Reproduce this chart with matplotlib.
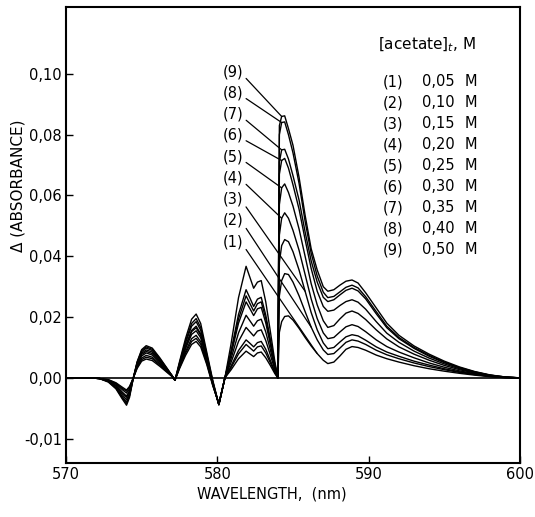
import numpy as np
import matplotlib
matplotlib.use("Agg")
import matplotlib.pyplot as plt

# wavelength grid (nm) and delta absorbance for the nine acetate concentrations
wavelength = [570.0, 571.5, 572.2, 572.8, 573.3, 573.7, 574.0, 574.2, 574.45,
              574.7, 575.0, 575.3, 575.7, 576.2, 576.7, 577.0, 577.2,
              577.5, 577.9, 578.3, 578.6, 578.9, 579.3, 579.7, 580.1, 580.5,
              580.9, 581.4, 581.9, 582.15, 582.4, 582.65, 582.9, 583.2, 583.5, 583.8, 584.0,
              584.1, 584.25, 584.45, 584.7, 585.0, 585.4, 585.8, 586.2, 586.6, 587.0,
              587.3, 587.7, 588.1, 588.5, 588.9, 589.3, 589.8, 590.5, 591.2, 592.0,
              593.0, 594.0, 595.0, 596.0, 597.0, 598.0, 599.0, 600.0]

curve_1 = [0, 0, -0.0001, -0.0003, -0.0008, -0.0015, -0.0020, -0.0014, 0,
           0.0031, 0.0055, 0.0062, 0.0057, 0.0038, 0.0017, 0.0005, -0.0004,
           0.0030, 0.0074, 0.0110, 0.0120, 0.0102, 0.0044, -0.0013, -0.0042, 0,
           0.0026, 0.0063, 0.0088, 0.0079, 0.0070, 0.0082, 0.0085, 0.0066, 0.0041, 0.0014, 0,
           0.0150, 0.0185, 0.0202, 0.0204, 0.0190, 0.0163, 0.0133, 0.0105, 0.0080, 0.0058,
           0.0047, 0.0052, 0.0072, 0.0094, 0.0103, 0.0100, 0.0091, 0.0075, 0.0063, 0.0052,
           0.0040, 0.0030, 0.0022, 0.0015, 0.0009, 0.0004, 0.0001, 0]
curve_2 = [0, 0, -0.0001, -0.0003, -0.0009, -0.0017, -0.0022, -0.0015, 0,
           0.0034, 0.0060, 0.0068, 0.0063, 0.0042, 0.0019, 0.0005, -0.0004,
           0.0033, 0.0081, 0.0120, 0.0130, 0.0111, 0.0049, -0.0012, -0.0043, 0,
           0.0033, 0.0079, 0.0110, 0.0099, 0.0088, 0.0102, 0.0105, 0.0082, 0.0050, 0.0018, 0,
           0.0270, 0.0320, 0.0343, 0.0340, 0.0315, 0.0270, 0.0218, 0.0167, 0.0125, 0.0092,
           0.0077, 0.0080, 0.0098, 0.0117, 0.0125, 0.0121, 0.0110, 0.0091, 0.0076, 0.0063,
           0.0049, 0.0037, 0.0027, 0.0018, 0.0011, 0.0005, 0.0001, 0]
curve_3 = [0, 0, -0.0001, -0.0004, -0.0010, -0.0019, -0.0025, -0.0018, 0,
           0.0037, 0.0065, 0.0074, 0.0068, 0.0046, 0.0021, 0.0006, -0.0004,
           0.0035, 0.0087, 0.0129, 0.0140, 0.0119, 0.0053, -0.0011, -0.0043, 0,
           0.0038, 0.0090, 0.0125, 0.0114, 0.0102, 0.0116, 0.0120, 0.0094, 0.0058, 0.0020, 0,
           0.0380, 0.0435, 0.0455, 0.0448, 0.0415, 0.0355, 0.0285, 0.0215, 0.0158, 0.0115,
           0.0096, 0.0100, 0.0118, 0.0135, 0.0142, 0.0138, 0.0124, 0.0102, 0.0085, 0.0071,
           0.0055, 0.0042, 0.0030, 0.0020, 0.0012, 0.0005, 0.0001, 0]
curve_4 = [0, 0, -0.0001, -0.0005, -0.0012, -0.0023, -0.0030, -0.0021, 0,
           0.0041, 0.0072, 0.0082, 0.0075, 0.0051, 0.0023, 0.0007, -0.0004,
           0.0039, 0.0096, 0.0143, 0.0155, 0.0132, 0.0060, -0.0010, -0.0044, 0,
           0.0050, 0.0120, 0.0166, 0.0152, 0.0138, 0.0154, 0.0158, 0.0123, 0.0076, 0.0027, 0,
           0.0470, 0.0525, 0.0543, 0.0525, 0.0485, 0.0420, 0.0340, 0.0260, 0.0195, 0.0148,
           0.0129, 0.0133, 0.0151, 0.0168, 0.0175, 0.0169, 0.0152, 0.0125, 0.0103, 0.0085,
           0.0066, 0.0049, 0.0035, 0.0023, 0.0014, 0.0006, 0.0002, 0]
curve_5 = [0, 0, -0.0001, -0.0005, -0.0013, -0.0024, -0.0032, -0.0022, 0,
           0.0044, 0.0077, 0.0087, 0.0080, 0.0054, 0.0024, 0.0007, -0.0004,
           0.0041, 0.0102, 0.0152, 0.0165, 0.0140, 0.0064, -0.0009, -0.0044, 0,
           0.0062, 0.0148, 0.0206, 0.0188, 0.0170, 0.0188, 0.0193, 0.0151, 0.0093, 0.0033, 0,
           0.0570, 0.0625, 0.0638, 0.0610, 0.0565, 0.0490, 0.0400, 0.0310, 0.0240, 0.0188,
           0.0166, 0.0172, 0.0194, 0.0213, 0.0220, 0.0212, 0.0192, 0.0158, 0.0128, 0.0102,
           0.0078, 0.0058, 0.0041, 0.0027, 0.0016, 0.0007, 0.0002, 0]
curve_6 = [0, 0, -0.0001, -0.0005, -0.0014, -0.0027, -0.0036, -0.0025, 0,
           0.0046, 0.0081, 0.0092, 0.0085, 0.0057, 0.0026, 0.0007, -0.0004,
           0.0043, 0.0105, 0.0156, 0.0170, 0.0145, 0.0067, -0.0008, -0.0044, 0,
           0.0075, 0.0180, 0.0250, 0.0228, 0.0205, 0.0227, 0.0232, 0.0181, 0.0111, 0.0039, 0,
           0.0670, 0.0715, 0.0722, 0.0690, 0.0635, 0.0555, 0.0455, 0.0360, 0.0285, 0.0235,
           0.0219, 0.0223, 0.0238, 0.0251, 0.0257, 0.0249, 0.0226, 0.0185, 0.0147, 0.0117,
           0.0088, 0.0065, 0.0046, 0.0030, 0.0018, 0.0008, 0.0002, 0]
curve_7 = [0, 0, -0.0001, -0.0006, -0.0016, -0.0030, -0.0040, -0.0028, 0,
           0.0049, 0.0086, 0.0098, 0.0090, 0.0061, 0.0027, 0.0008, -0.0004,
           0.0046, 0.0115, 0.0170, 0.0185, 0.0157, 0.0073, -0.0007, -0.0044, 0,
           0.0081, 0.0194, 0.0270, 0.0245, 0.0220, 0.0244, 0.0250, 0.0195, 0.0120, 0.0043, 0,
           0.0710, 0.0750, 0.0752, 0.0720, 0.0665, 0.0585, 0.0480, 0.0385, 0.0315, 0.0265,
           0.0251, 0.0257, 0.0273, 0.0288, 0.0295, 0.0286, 0.0260, 0.0211, 0.0165, 0.0129,
           0.0097, 0.0071, 0.0050, 0.0033, 0.0019, 0.0009, 0.0003, 0]
curve_8 = [0, 0, -0.0001, -0.0006, -0.0017, -0.0032, -0.0042, -0.0029, 0,
           0.0051, 0.0090, 0.0102, 0.0094, 0.0063, 0.0029, 0.0008, -0.0004,
           0.0049, 0.0121, 0.0179, 0.0195, 0.0166, 0.0078, -0.0006, -0.0044, 0,
           0.0087, 0.0209, 0.0290, 0.0263, 0.0235, 0.0259, 0.0265, 0.0207, 0.0127, 0.0045, 0,
           0.0800, 0.0840, 0.0842, 0.0800, 0.0740, 0.0640, 0.0515, 0.0410, 0.0335, 0.0282,
           0.0264, 0.0268, 0.0283, 0.0298, 0.0305, 0.0296, 0.0267, 0.0218, 0.0170, 0.0133,
           0.0100, 0.0074, 0.0052, 0.0034, 0.0020, 0.0009, 0.0003, 0]
curve_9 = [0, 0, -0.0001, -0.0007, -0.0018, -0.0034, -0.0045, -0.0032, 0,
           0.0053, 0.0093, 0.0106, 0.0098, 0.0066, 0.0030, 0.0008, -0.0004,
           0.0053, 0.0130, 0.0193, 0.0210, 0.0179, 0.0085, -0.0004, -0.0044, 0,
           0.0110, 0.0264, 0.0367, 0.0331, 0.0295, 0.0315, 0.0320, 0.0250, 0.0154, 0.0054, 0,
           0.0830, 0.0860, 0.0862, 0.0820, 0.0765, 0.0660, 0.0535, 0.0425, 0.0355, 0.0300,
           0.0285, 0.0290, 0.0305, 0.0318, 0.0322, 0.0312, 0.0280, 0.0230, 0.0180, 0.0140,
           0.0105, 0.0078, 0.0055, 0.0036, 0.0021, 0.0010, 0.0003, 0]

curves = [curve_1, curve_2, curve_3, curve_4, curve_5, curve_6, curve_7, curve_8, curve_9]
acetate = [0.05, 0.10, 0.15, 0.20, 0.25, 0.30, 0.35, 0.40, 0.50]
# wavelength where each curve label's leader line ends
label_at = [586.6, 586.2, 585.8, 584.25, 584.25, 584.25, 584.25, 584.25, 584.25]

x_ticks = [570, 580, 590, 600]
y_ticks = [-0.01, 0.0, 0.02, 0.04, 0.06, 0.08, 0.10]


def comma(v):
    return f"{v:.2f}".replace(".", ",")


# the negative part of the original axis is drawn at twice the scale
def fwd(y):
    y = np.asarray(y, dtype=float)
    return np.where(y < 0, 2 * y, y)


def inv(y):
    y = np.asarray(y, dtype=float)
    return np.where(y < 0, y / 2, y)


plt.rcParams["font.family"] = "DejaVu Sans"
fig = plt.figure(figsize=(5.35, 5.17), dpi=100)
ax = fig.add_axes([66 / 535, 1 - 463 / 517, 454 / 535, 456 / 517])
ax.set_yscale("function", functions=(fwd, inv))

ax.axhline(0, color="black", lw=1.2)
for c in curves:
    ax.plot(wavelength, c, color="black", lw=1.0)

ax.set_xlim(570, 600)
ax.set_ylim(-0.014, 0.122)
ax.set_xticks(x_ticks)
ax.set_xticklabels([str(t) for t in x_ticks])
ax.set_yticks(y_ticks)
ax.set_yticklabels([comma(t) for t in y_ticks])
ax.minorticks_off()
ax.tick_params(direction="in", length=5, width=1, labelsize=10.5)
ax.tick_params(axis="x", pad=3)
ax.tick_params(axis="y", pad=3)
for s in ax.spines.values():
    s.set_linewidth(1.5)

fig.text(272 / 535, 1 - 494 / 517, "WAVELENGTH,  (nm)", ha="center", va="center", fontsize=10.5)
fig.text(18 / 535, 1 - 186 / 517, "Δ (ABSORBANCE)", ha="center", va="center",
         rotation=90, fontsize=11)


def fy(py):
    return 1 - (py - 7) / 456


# curve labels with leader lines
for i, c in enumerate(curves):
    k = wavelength.index(label_at[i])
    ax.annotate(f"({i + 1})", xy=(wavelength[k], c[k]),
                xytext=((233 - 66) / 454, fy(241.7 - i * 21.25)), textcoords="axes fraction",
                ha="center", va="center", fontsize=10.5,
                arrowprops=dict(arrowstyle="-", color="black", lw=0.9,
                                shrinkA=0, shrinkB=0, relpos=(1.0, 0.25)))

# concentration key
ax.text((378 - 66) / 454, fy(45), "[acetate]$_t$, M", transform=ax.transAxes,
        ha="left", va="center", fontsize=11)
for i, a in enumerate(acetate):
    y = fy(81.7 + i * 21)
    ax.text((383 - 66) / 454, y, f"({i + 1})", transform=ax.transAxes, ha="left", va="center", fontsize=10.5)
    ax.text((422 - 66) / 454, y, comma(a), transform=ax.transAxes, ha="left", va="center", fontsize=10.5)
    ax.text((465 - 66) / 454, y, "M", transform=ax.transAxes, ha="left", va="center", fontsize=10.5)

fig.savefig("out.png", dpi=100)
